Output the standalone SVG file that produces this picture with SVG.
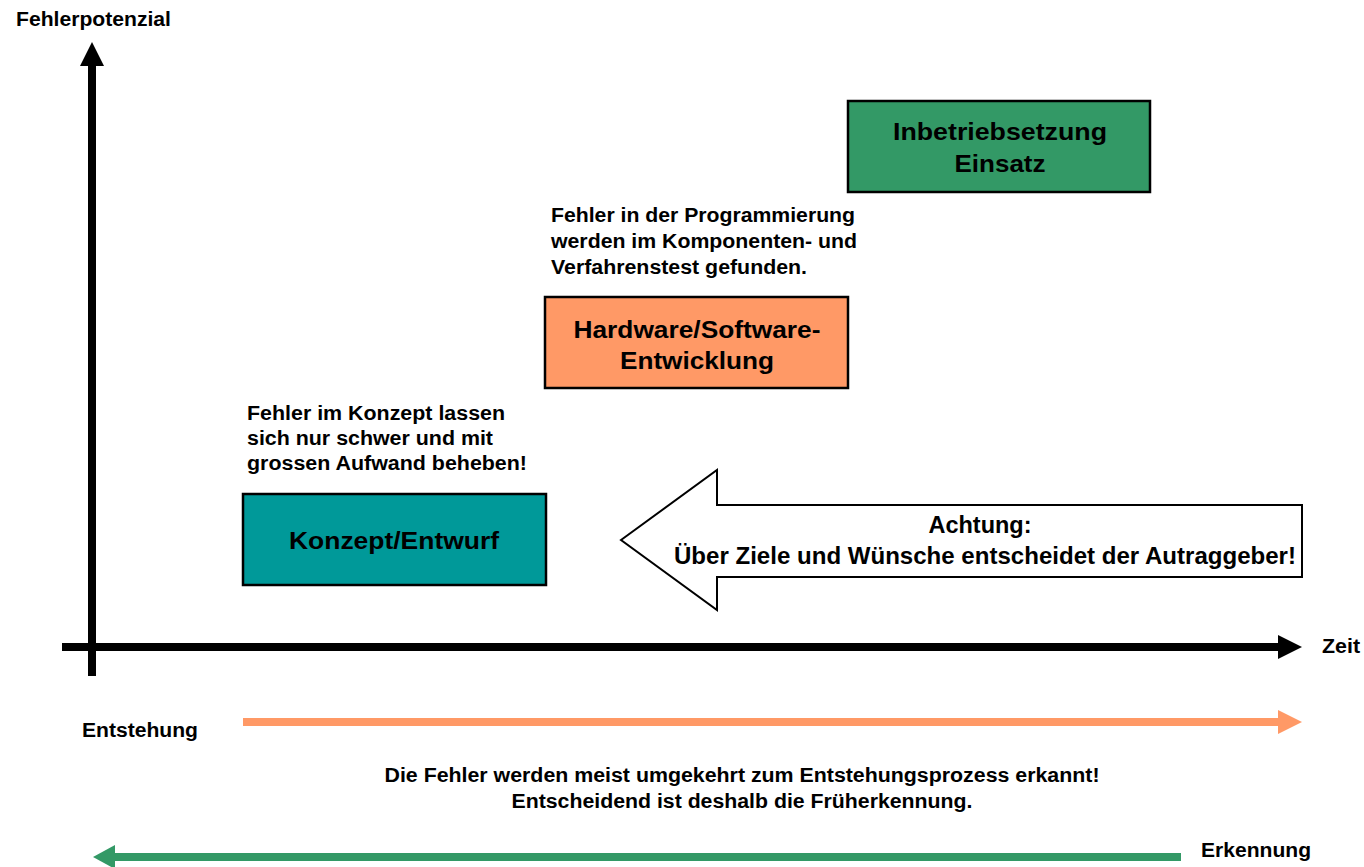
<svg xmlns="http://www.w3.org/2000/svg" width="1364" height="867" viewBox="0 0 1364 867">
<style>
text{font-family:"Liberation Sans",Arial,sans-serif;font-weight:bold;fill:#000}
.lbl{font-size:20px}
.node{font-size:24px;text-anchor:middle}
.note{font-size:20px}
.box{stroke:#000;stroke-width:2.5}
</style>
<rect width="1364" height="867" fill="#fff"/>
<g id="connectors">
  <rect x="88" y="64" width="8" height="612" fill="#000"/>
  <polygon points="92,42 80,66 104,66" fill="#000"/>
  <rect x="62" y="643" width="1218" height="8" fill="#000"/>
  <polygon points="1302,647 1278,635 1278,659" fill="#000"/>
  <rect x="243" y="718" width="1037" height="8" fill="#FF9966"/>
  <polygon points="1302,722 1278,710 1278,734" fill="#FF9966"/>
  <rect x="113" y="853" width="1068" height="8" fill="#339966"/>
  <polygon points="93,857 115,845 115,869" fill="#339966"/>
</g>
<g id="axis-labels">
  <text class="lbl" x="16" y="26" textLength="155" lengthAdjust="spacingAndGlyphs">Fehlerpotenzial</text>
  <text class="lbl" x="1322" y="653" textLength="38" lengthAdjust="spacingAndGlyphs">Zeit</text>
  <text class="lbl" x="82" y="737" textLength="116" lengthAdjust="spacingAndGlyphs">Entstehung</text>
  <text class="lbl" x="1201" y="857" textLength="110" lengthAdjust="spacingAndGlyphs">Erkennung</text>
</g>
<g id="node-inbetrieb">
  <rect class="box" x="848" y="101" width="302" height="91" fill="#339966"/>
  <text class="node" x="1000" y="140" textLength="214" lengthAdjust="spacingAndGlyphs">Inbetriebsetzung</text>
  <text class="node" x="1000" y="172" textLength="91" lengthAdjust="spacingAndGlyphs">Einsatz</text>
</g>
<g id="node-hwsw">
  <rect class="box" x="545" y="297" width="303" height="91" fill="#FF9966"/>
  <text class="node" x="697" y="338" textLength="247" lengthAdjust="spacingAndGlyphs">Hardware/Software-</text>
  <text class="node" x="697" y="369" textLength="154" lengthAdjust="spacingAndGlyphs">Entwicklung</text>
</g>
<g id="node-konzept">
  <rect class="box" x="243" y="494" width="303" height="91" fill="#009999"/>
  <text class="node" x="394" y="549" textLength="210" lengthAdjust="spacingAndGlyphs">Konzept/Entwurf</text>
</g>
<g id="note-programmierung">
  <text class="note" x="551" y="222" textLength="304" lengthAdjust="spacingAndGlyphs">Fehler in der Programmierung</text>
  <text class="note" x="551" y="248" textLength="306" lengthAdjust="spacingAndGlyphs">werden im Komponenten- und</text>
  <text class="note" x="551" y="274" textLength="256" lengthAdjust="spacingAndGlyphs">Verfahrenstest gefunden.</text>
</g>
<g id="note-konzept">
  <text class="note" x="247" y="420" textLength="258" lengthAdjust="spacingAndGlyphs">Fehler im Konzept lassen</text>
  <text class="note" x="247" y="445" textLength="246" lengthAdjust="spacingAndGlyphs">sich nur schwer und mit</text>
  <text class="note" x="247" y="470" textLength="280" lengthAdjust="spacingAndGlyphs">grossen Aufwand beheben!</text>
</g>
<g id="node-achtung">
  <polygon points="621,540 717,470 717,505 1302,505 1302,577 717,577 717,610" fill="#fff" stroke="#000" stroke-width="2"/>
  <text class="node" x="980" y="533" textLength="103" lengthAdjust="spacingAndGlyphs">Achtung:</text>
  <text class="node" x="985" y="564" textLength="622" lengthAdjust="spacingAndGlyphs">Über Ziele und Wünsche entscheidet der Autraggeber!</text>
</g>
<g id="note-bottom">
  <text class="note" x="742" y="782" text-anchor="middle" textLength="715" lengthAdjust="spacingAndGlyphs">Die Fehler werden meist umgekehrt zum Entstehungsprozess erkannt!</text>
  <text class="note" x="742" y="808" text-anchor="middle" textLength="461" lengthAdjust="spacingAndGlyphs">Entscheidend ist deshalb die Früherkennung.</text>
</g>
</svg>
